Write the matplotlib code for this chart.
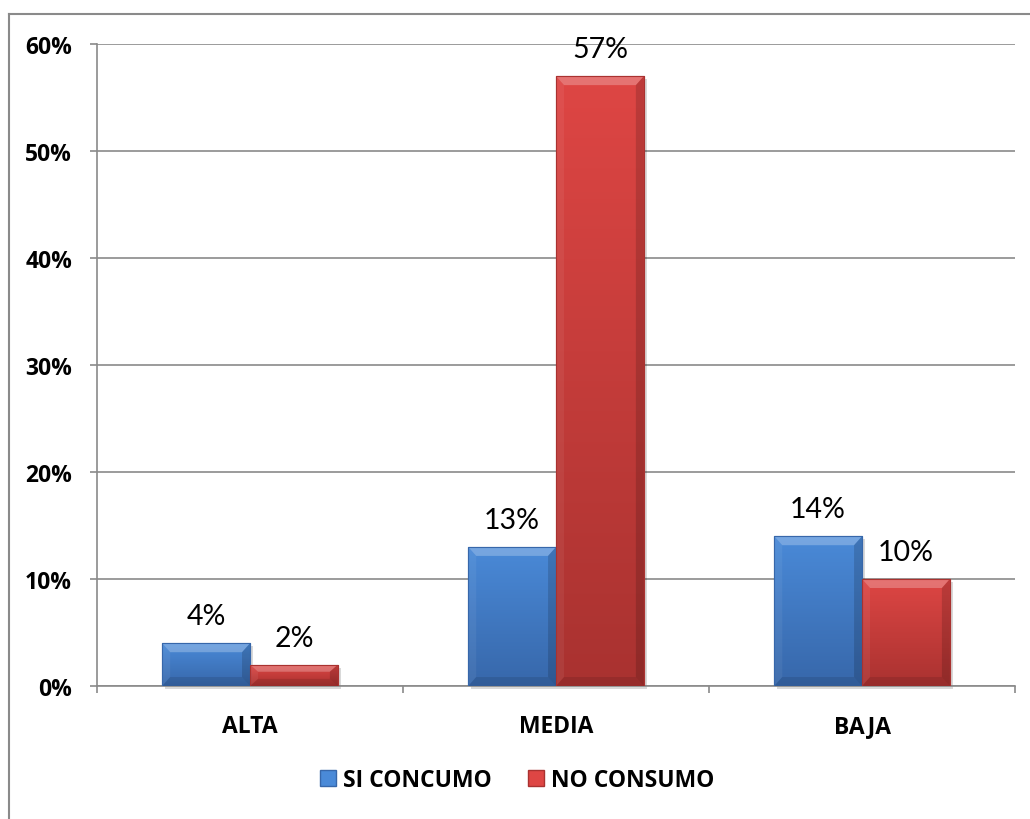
import matplotlib.pyplot as plt
import numpy as np
from matplotlib.colors import LinearSegmentedColormap
from matplotlib.lines import Line2D
from matplotlib.patches import Patch, Polygon, Rectangle

# datos
categories = ["ALTA", "MEDIA", "BAJA"]
series_names = ["SI CONCUMO", "NO CONSUMO"]
si_consumo = [4, 13, 14]
no_consumo = [2, 57, 10]
y_ticks = [0, 10, 20, 30, 40, 50, 60]

# colores (claro arriba, oscuro abajo)
blue_light, blue_dark = "#4a8ad8", "#3767aa"
red_light, red_dark = "#de4644", "#a93230"
grid_color = "#8a8a8a"

plt.rcParams["font.family"] = ["Lato", "DejaVu Sans"]
bold_font = {"family": ["Open Sans", "DejaVu Sans"], "weight": "bold", "size": 16.5}

fig = plt.figure(figsize=(10.3, 8.2), dpi=100)
ax = fig.add_axes([0.0942, 0.1622, 0.8913, 0.7829])
ax.set_xlim(-0.5, len(categories) - 0.5)
ax.set_ylim(0, 60)

x = np.arange(len(categories))
width = 0.287

# tamaño del bisel en unidades de datos (~9 px)
ax_w_px = fig.get_figwidth() * fig.dpi * 0.8913
ax_h_px = fig.get_figheight() * fig.dpi * 0.7829
bev_x = 8 / (ax_w_px / len(categories))
bev_y = 9 / (ax_h_px / 60)
sh_x = 3 / (ax_w_px / len(categories))
sh_y = 3 / (ax_h_px / 60)


def draw_bars(xs, values, light, dark):
    cmap = LinearSegmentedColormap.from_list("g", [dark, light])
    grad = np.linspace(1, 0, 256).reshape(-1, 1)
    bars = ax.bar(xs, values, width, color=light, edgecolor=dark, linewidth=0.8, zorder=3)
    for rect in bars:
        x0, y0 = rect.get_x(), rect.get_y()
        w, h = rect.get_width(), rect.get_height()
        x1, y1 = x0 + w, y0 + h
        # sombra suave
        ax.add_patch(Rectangle((x0 + sh_x, y0 - sh_y), w, h, color="black",
                               alpha=0.15, lw=0, zorder=2, clip_on=False))
        im = ax.imshow(grad, extent=[x0, x1, y0, y1], cmap=cmap, aspect="auto",
                       origin="upper", zorder=3.1, interpolation="bicubic")
        im.set_clip_path(rect)
        by = min(bev_y, h / 3)
        # bisel: arriba claro, derecha oscura, abajo oscuro
        ax.add_patch(Polygon([(x0, y1), (x1, y1), (x1 - bev_x, y1 - by), (x0 + bev_x, y1 - by)],
                             closed=True, color="white", alpha=0.25, lw=0, zorder=3.2))
        ax.add_patch(Polygon([(x0, y1), (x0 + bev_x, y1 - by), (x0 + bev_x, y0 + by), (x0, y0)],
                             closed=True, color="white", alpha=0.06, lw=0, zorder=3.2))
        ax.add_patch(Polygon([(x1, y1), (x1 - bev_x, y1 - by), (x1 - bev_x, y0 + by), (x1, y0)],
                             closed=True, color="black", alpha=0.15, lw=0, zorder=3.2))
        ax.add_patch(Polygon([(x0, y0), (x0 + bev_x, y0 + by), (x1 - bev_x, y0 + by), (x1, y0)],
                             closed=True, color="black", alpha=0.1, lw=0, zorder=3.2))
        ax.add_patch(Rectangle((x0, y0), w, h, fill=False, edgecolor=dark, lw=0.8, zorder=3.3))
        ax.annotate(f"{h:.0f}%", (x0 + w / 2, y1), xytext=(0, 10), textcoords="offset points",
                    ha="center", va="bottom", fontsize=20.5, color="black")
    return bars


draw_bars(x - width / 2, si_consumo, blue_light, blue_dark)
draw_bars(x + width / 2, no_consumo, red_light, red_dark)

ax.set_xlim(-0.5, len(categories) - 0.5)
ax.set_ylim(0, 60)

# ejes y grilla
ax.set_yticks(y_ticks)
ax.set_yticklabels([f"{v}%" for v in y_ticks], fontdict=bold_font)
ax.yaxis.grid(True, color=grid_color, linewidth=1.2, zorder=0)
ax.set_axisbelow(True)
ax.tick_params(axis="y", length=5, width=1.2, color=grid_color, pad=13)

ax.set_xticks(np.arange(len(categories) + 1) - 0.5)
ax.set_xticklabels([])
ax.set_xticks(x, minor=True)
ax.set_xticklabels(categories, minor=True, fontdict=bold_font)
ax.tick_params(axis="x", which="major", length=5, width=1.2, color=grid_color)
ax.tick_params(axis="x", which="minor", length=0, pad=20)

for side in ["top", "right"]:
    ax.spines[side].set_visible(False)
for side in ["left", "bottom"]:
    ax.spines[side].set_color(grid_color)
    ax.spines[side].set_linewidth(1.2)

# leyenda
handles = [
    Patch(facecolor=blue_light, edgecolor=blue_dark, label=series_names[0]),
    Patch(facecolor=red_light, edgecolor=red_dark, label=series_names[1]),
]
fig.legend(handles=handles, loc="center", bbox_to_anchor=(0.502, 0.0476), ncol=2,
           frameon=False, handlelength=0.7, handleheight=0.7, handletextpad=0.3,
           columnspacing=1.6, prop=bold_font)

# borde del área del gráfico
fx, fy = 9 / 1030, 1 - 15 / 820
fig.add_artist(Line2D([fx, fx], [0, fy], color=grid_color, lw=1.5))
fig.add_artist(Line2D([fx, 1], [fy, fy], color=grid_color, lw=1.5))

fig.savefig("out.png", dpi=100)
